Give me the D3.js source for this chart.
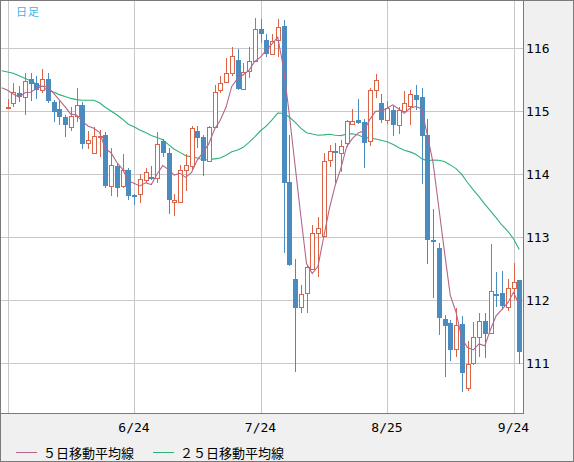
<!DOCTYPE html>
<html>
<head>
<meta charset="utf-8">
<script src="https://cdn.jsdelivr.net/npm/d3@7"></script>
<style>
  body { margin: 0; background: #f0f0f0; }
  svg { display: block; }
</style>
</head>
<body>
<div id="chart"></div>
<script>
// daily candles, 5/23 .. 9/25
var opens = [115.05,115.12,115.29,115.22,115.51,115.44,115.34,115.51,115.15,115.03,
  114.91,114.75,114.92,115.10,114.49,114.34,114.58,114.62,113.81,114.13,
  113.81,114.06,113.67,113.68,113.90,113.96,113.93,114.52,114.34,113.56,
  113.56,114.07,114.13,114.68,114.58,114.21,114.75,115.33,115.46,115.61,
  115.81,115.35,115.63,115.80,116.30,116.13,115.90,116.13,116.35,113.88,
  112.33,111.89,112.11,112.50,113.06,113.02,114.22,114.37,114.33,114.50,
  114.79,114.86,114.83,114.52,115.34,115.13,114.86,115.02,114.77,115.00,
  115.08,115.25,115.22,114.62,112.96,112.82,111.70,111.63,111.22,111.62,
  110.61,111.00,111.41,111.67,111.47,112.09,112.11,111.89,112.19,112.31];
var highs = [115.19,115.45,115.39,115.60,115.60,115.56,115.67,115.60,115.17,115.17,
  114.94,115.07,115.37,115.15,114.68,114.75,114.70,114.67,114.41,114.17,
  114.32,114.10,113.69,114.00,114.10,114.13,114.67,114.56,114.42,113.69,
  114.14,114.31,114.76,114.76,114.62,114.76,115.41,115.56,115.84,116.02,
  115.98,115.76,116.02,116.47,116.46,116.23,116.23,116.46,116.44,114.62,
  112.65,112.24,112.54,113.19,113.31,114.34,114.46,114.50,114.54,114.86,
  115.03,115.19,114.88,115.37,115.59,115.27,115.16,115.10,115.06,115.31,
  115.34,115.41,115.36,114.87,113.44,112.90,111.76,111.68,111.87,111.75,
  111.35,111.65,111.80,111.79,112.89,112.45,112.46,112.33,112.59,112.32];
var lows = [115.04,115.07,115.14,114.93,115.16,115.19,115.28,115.12,114.82,114.77,
  114.58,114.68,114.83,114.39,114.39,114.33,114.27,113.77,113.65,113.64,
  113.77,113.59,113.51,113.54,113.85,113.90,113.85,114.27,113.37,113.33,
  113.54,113.73,114.06,114.42,113.97,114.20,114.74,115.29,115.44,115.56,
  115.33,115.34,115.52,115.78,116.08,115.86,115.89,115.85,112.75,112.54,
  110.85,111.79,111.79,112.48,112.37,113.02,114.11,113.85,114.03,114.43,
  114.78,114.80,114.09,114.44,115.20,114.81,114.80,114.61,114.64,114.99,
  114.78,115.02,113.84,112.57,112.03,111.44,110.77,111.03,111.10,110.54,
  110.56,110.97,111.10,111.08,111.46,111.89,111.84,111.83,112.00,110.98];
var closes = [115.06,115.30,115.23,115.47,115.43,115.33,115.51,115.16,114.99,114.90,
  114.78,114.92,115.10,114.47,114.54,114.60,114.60,113.81,114.14,113.78,
  114.06,113.65,113.64,113.92,114.03,113.92,114.47,114.34,113.59,113.59,
  114.07,114.14,114.73,114.57,114.21,114.74,115.30,115.44,115.60,115.87,
  115.35,115.62,115.79,116.30,116.22,115.90,116.11,116.33,113.86,112.56,
  111.87,112.09,112.52,113.06,113.14,114.21,114.37,114.33,114.44,114.84,
  114.84,114.81,114.50,115.33,115.49,114.86,115.04,114.77,115.02,115.12,
  115.27,115.17,114.61,112.95,112.93,111.72,111.59,111.20,111.61,110.84,
  110.98,111.41,111.67,111.46,112.14,112.08,111.90,112.19,112.29,111.18];

// averages before the window has enough days, from day -1
var ma5Lead = [115.37,115.33,115.27,115.22,115.29];
var ma25Lead = [115.64,115.62,115.60,115.56,115.52,115.48,115.43,115.38,115.33,115.30,
  115.26,115.23,115.20,115.18,115.17,115.17,115.17,115.13,115.06,115.00,
  114.94,114.87,114.79,114.75,114.70];

var gridIdx = [0, 22, 44, 66, 88];
var tickLabels = ["", "6/24", "7/24", "8/25", "9/24"];
var yTicks = [111, 112, 113, 114, 115, 116];

var W = 574, H = 462;
var plotW = 523, plotH = 413;
var upColor = "#dc6446", downColor = "#4a8bc0";
var ma5Color = "#b5658c", ma25Color = "#2db278";

var x = d3.scaleLinear().domain([0, 88]).range([7.5, 513.5]);
var y = d3.scaleLinear().domain([111, 116]).range([363, 48]);

function movingAvg(n, lead) {
  var out = [];
  for (var i = -1; i < closes.length; i++) {
    var v;
    if (i < n - 1) v = lead[i + 1];
    else v = d3.mean(closes.slice(i - n + 1, i + 1));
    out.push({ i: i, v: v });
  }
  return out;
}

var svg = d3.select("#chart").append("svg")
  .attr("width", W).attr("height", H);

svg.append("rect").attr("x", 0).attr("y", 0).attr("width", W).attr("height", H)
  .attr("fill", "#f0f0f0");

svg.append("defs").append("clipPath").attr("id", "plotclip")
  .append("rect").attr("x", 1).attr("y", 1).attr("width", plotW - 1).attr("height", plotH - 1);

svg.append("rect").attr("x", 0).attr("y", 0).attr("width", plotW).attr("height", plotH)
  .attr("fill", "#fff");

var plot = svg.append("g").attr("clip-path", "url(#plotclip)");

// grid
plot.selectAll(".hgrid").data(yTicks).enter().append("line")
  .attr("x1", 0).attr("x2", plotW)
  .attr("y1", function (d) { return Math.round(y(d)) + 0.5; })
  .attr("y2", function (d) { return Math.round(y(d)) + 0.5; })
  .attr("stroke", "#c8c8c8");

plot.selectAll(".vgrid").data(gridIdx).enter().append("line")
  .attr("x1", function (d) { return Math.round(x(d)) + 0.5; })
  .attr("x2", function (d) { return Math.round(x(d)) + 0.5; })
  .attr("y1", 0).attr("y2", plotH)
  .attr("stroke", "#c8c8c8");

// moving averages
var line = d3.line()
  .x(function (d) { return x(d.i); })
  .y(function (d) { return y(d.v); });

plot.append("path").datum(movingAvg(25, ma25Lead))
  .attr("d", line).attr("fill", "none")
  .attr("stroke", ma25Color).attr("stroke-width", 1.1);

// candles
var candles = closes.map(function (c, i) {
  return { i: i, o: opens[i], h: highs[i], l: lows[i], c: c };
});

var cg = plot.selectAll(".candle").data(candles).enter().append("g");

cg.append("line")
  .attr("x1", function (d) { return Math.round(x(d.i)) + 0.5; })
  .attr("x2", function (d) { return Math.round(x(d.i)) + 0.5; })
  .attr("y1", function (d) { return Math.round(y(d.h)); })
  .attr("y2", function (d) { return Math.round(y(d.l)); })
  .attr("stroke", function (d) { return d.c >= d.o ? upColor : downColor; });

cg.append("rect")
  .attr("x", function (d) {
    var px = Math.round(x(d.i));
    return d.c >= d.o ? px - 1.5 : px - 2;
  })
  .attr("width", function (d) { return d.c >= d.o ? 4 : 5; })
  .attr("y", function (d) {
    var top = Math.round(y(Math.max(d.o, d.c)));
    return d.c >= d.o ? top + 0.5 : top;
  })
  .attr("height", function (d) {
    var h = Math.round(y(Math.min(d.o, d.c))) - Math.round(y(Math.max(d.o, d.c)));
    return d.c >= d.o ? Math.max(1, h) : Math.max(2, h);
  })
  .attr("fill", function (d) { return d.c >= d.o ? "#fff" : downColor; })
  .attr("stroke", function (d) { return d.c >= d.o ? upColor : "none"; });

plot.append("path").datum(movingAvg(5, ma5Lead))
  .attr("d", line).attr("fill", "none")
  .attr("stroke", ma5Color).attr("stroke-width", 1.1);

// frames
svg.append("rect").attr("x", 0.5).attr("y", 0.5).attr("width", plotW).attr("height", plotH)
  .attr("fill", "none").attr("stroke", "#7a7a7a");
svg.append("rect").attr("x", 0.5).attr("y", 0.5).attr("width", W - 1).attr("height", H - 1)
  .attr("fill", "none").attr("stroke", "#7a7a7a");

// labels
svg.append("text").attr("x", 16).attr("y", 15.5)
  .attr("font-family", "Noto Sans CJK JP").attr("font-size", 11)
  .attr("letter-spacing", 1)
  .attr("fill", "#3cb4e6").text("日足");

svg.selectAll(".ylab").data(yTicks).enter().append("text")
  .attr("x", 526).attr("y", function (d) { return y(d); })
  .attr("dy", "0.36em")
  .attr("font-family", "DejaVu Sans Mono").attr("font-size", 13)
  .attr("fill", "#000").text(function (d) { return d; });

svg.selectAll(".xlab").data(gridIdx).enter().append("text")
  .attr("x", function (d) { return x(d); }).attr("y", 432)
  .attr("text-anchor", "middle")
  .attr("font-family", "DejaVu Sans Mono").attr("font-size", 13)
  .attr("fill", "#000").text(function (d, i) { return tickLabels[i]; });

// legend
var legend = [
  { name: "５日移動平均線", color: ma5Color, x: 16 },
  { name: "２５日移動平均線", color: ma25Color, x: 153 }
];
var lg = svg.selectAll(".legend").data(legend).enter().append("g");
lg.append("line")
  .attr("x1", function (d) { return d.x; }).attr("x2", function (d) { return d.x + 21; })
  .attr("y1", 452.5).attr("y2", 452.5)
  .attr("stroke", function (d) { return d.color; });
lg.append("text")
  .attr("x", function (d) { return d.x + 27; }).attr("y", 457.5)
  .attr("font-family", "Noto Sans CJK JP").attr("font-size", 13)
  .attr("fill", "#000").text(function (d) { return d.name; });
</script>
</body>
</html>
